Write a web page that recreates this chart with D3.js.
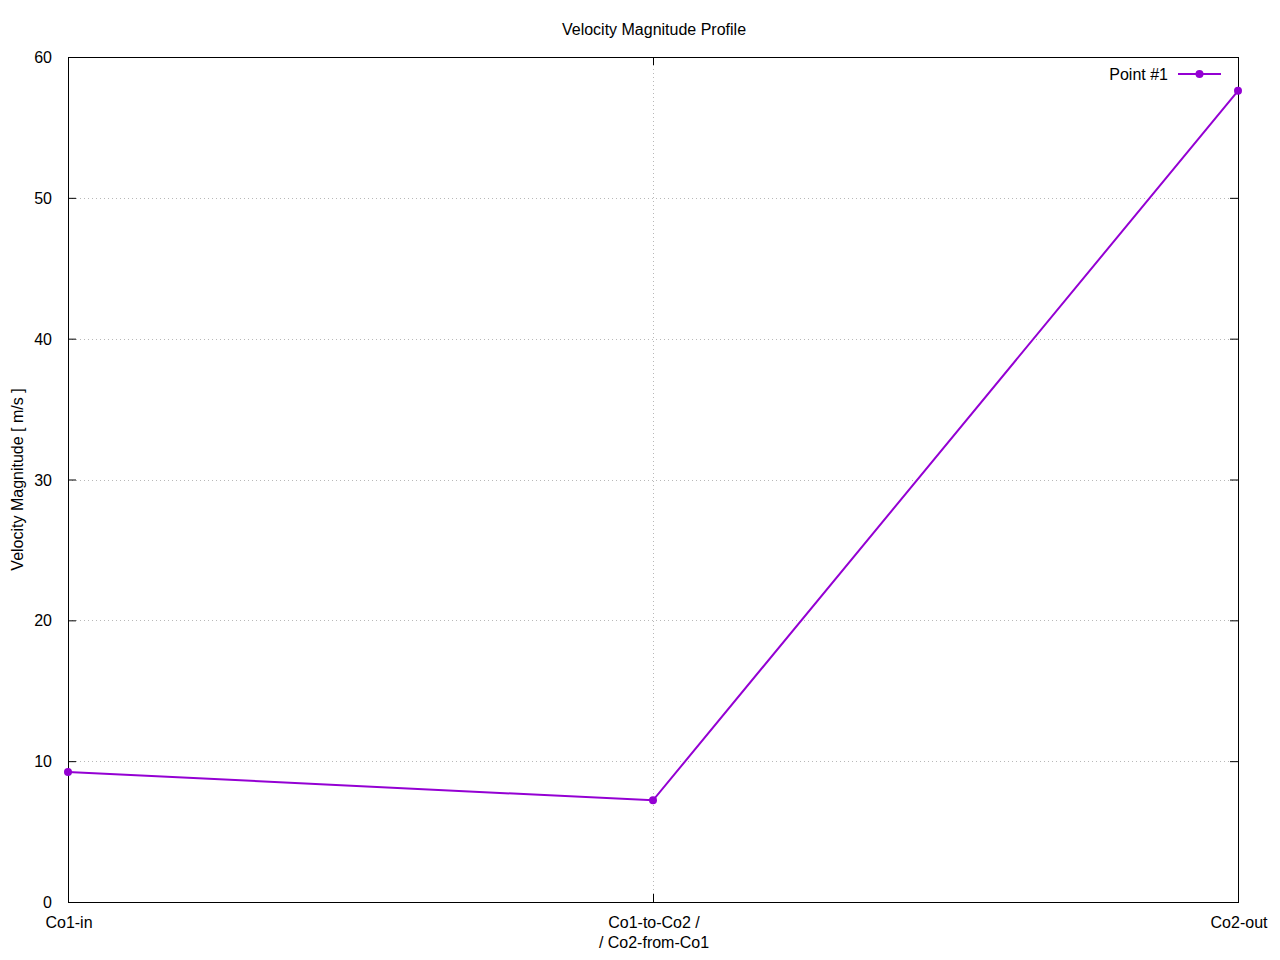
<!DOCTYPE html>
<html>
<head>
<meta charset="utf-8">
<script src="https://cdn.jsdelivr.net/npm/d3@7"></script>
<style>
  body { margin: 0; background: #fff; }
  text { font-family: "Liberation Sans", Arial, sans-serif; fill: #000; }
</style>
</head>
<body>
<div id="chart"></div>
<script>
// Data
const categories = ["Co1-in", "Co1-to-Co2 /\n/ Co2-from-Co1", "Co2-out"]
const velocity = [9.23, 7.22, 57.6]
const yTicks = [0, 10, 20, 30, 40, 50, 60]
const seriesName = "Point #1"

// Environment variables
const width = 1280, height = 960
const margin = { top: 57, right: 42, bottom: 58, left: 68 }
const color = "#9400d3"

const svg = d3.select("#chart").append("svg")
    .attr("width", width)
    .attr("height", height)

const x = d3.scalePoint()
    .domain(d3.range(categories.length))
    .range([margin.left, width - margin.right])

const y = d3.scaleLinear()
    .domain([0, 60])
    .range([height - margin.bottom, margin.top])

// Grid
const grid = svg.append("g")
    .style("stroke", "#b8b8b8")
    .style("stroke-width", 1)
    .style("stroke-dasharray", "1,3")

grid.selectAll("line.gy")
    .data(yTicks.slice(1, -1))
    .enter().append("line")
    .attr("x1", margin.left).attr("x2", width - margin.right)
    .attr("y1", d => Math.round(y(d)) + 0.5).attr("y2", d => Math.round(y(d)) + 0.5)

grid.selectAll("line.gx")
    .data(d3.range(1, categories.length - 1))
    .enter().append("line")
    .attr("x1", d => Math.round(x(d)) + 0.5).attr("x2", d => Math.round(x(d)) + 0.5)
    .attr("y1", margin.top).attr("y2", height - margin.bottom)

// Axes (with mirrored ticks like gnuplot)
const tickLen = 8
const axisL = svg.append("g")
    .attr("transform", `translate(${margin.left},0)`)
    .call(d3.axisLeft(y).tickValues(yTicks).tickSize(-tickLen).tickPadding(tickLen + 8))
const axisR = svg.append("g")
    .attr("transform", `translate(${width - margin.right},0)`)
    .call(d3.axisRight(y).tickValues(yTicks).tickSize(-tickLen).tickFormat(""))
const axisB = svg.append("g")
    .attr("transform", `translate(0,${height - margin.bottom})`)
    .call(d3.axisBottom(x).tickSize(-tickLen).tickFormat(""))
const axisT = svg.append("g")
    .attr("transform", `translate(0,${margin.top})`)
    .call(d3.axisTop(x).tickSize(-tickLen).tickFormat(""))

for (const a of [axisL, axisR, axisB, axisT]) {
    a.select(".domain").remove()
    a.selectAll(".tick line").style("stroke", "#000")
}
axisL.selectAll(".tick text")
    .style("font-size", "16px")
    .attr("dy", "0.35em")

// X tick labels (multi-line)
svg.append("g").selectAll("text")
    .data(categories)
    .enter().append("text")
    .attr("text-anchor", "middle")
    .style("font-size", "16px")
    .attr("transform", (d, i) => `translate(${x(i) + 1},${height - margin.bottom + 26})`)
    .each(function (d) {
        d.split("\n").forEach((line, j) => {
            d3.select(this).append("tspan")
                .attr("x", 0).attr("y", j * 20)
                .text(line)
        })
    })

// Border
svg.append("rect")
    .attr("x", margin.left + 0.5).attr("y", margin.top + 0.5)
    .attr("width", width - margin.left - margin.right)
    .attr("height", height - margin.top - margin.bottom)
    .style("fill", "none").style("stroke", "#000")

// Title and y label
svg.append("text")
    .attr("x", 654).attr("y", 35)
    .attr("text-anchor", "middle")
    .style("font-size", "16px")
    .text("Velocity Magnitude Profile")

svg.append("text")
    .attr("transform", `translate(23,${(margin.top + height - margin.bottom) / 2}) rotate(-90)`)
    .attr("text-anchor", "middle")
    .style("font-size", "16px")
    .text("Velocity Magnitude [ m/s ]")

// Line
const line = d3.line()
    .x((d, i) => x(i))
    .y(d => y(d))

svg.append("path")
    .datum(velocity)
    .attr("d", line)
    .style("fill", "none")
    .style("stroke", color)
    .style("stroke-width", 2)

svg.append("g").selectAll("circle")
    .data(velocity)
    .enter().append("circle")
    .attr("cx", (d, i) => x(i))
    .attr("cy", d => y(d))
    .attr("r", 4)
    .style("fill", color)

// Legend
const legend = svg.append("g").attr("transform", "translate(0,74)")
legend.append("text")
    .attr("x", 1168).attr("y", 0)
    .attr("dy", "0.35em")
    .attr("text-anchor", "end")
    .style("font-size", "16px")
    .text(seriesName)
legend.append("line")
    .attr("x1", 1178).attr("x2", 1221)
    .style("stroke", color).style("stroke-width", 2)
legend.append("circle")
    .attr("cx", 1199.5).attr("cy", 0).attr("r", 4)
    .style("fill", color)
</script>
</body>
</html>
